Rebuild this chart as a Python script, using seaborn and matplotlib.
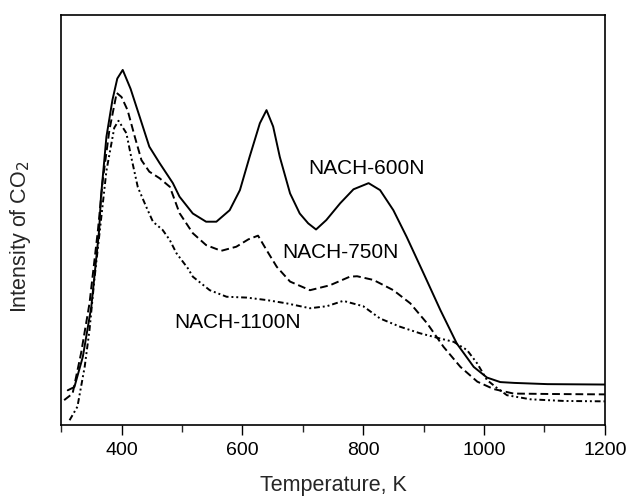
import numpy as np
import pandas as pd
import matplotlib
matplotlib.use("Agg")
import matplotlib.pyplot as plt
import seaborn as sns
from matplotlib.ticker import MultipleLocator

# Data (arbitrary intensity units)
t_600 = [311, 322, 336, 350, 363, 366, 375, 385, 393, 402, 415, 430, 446, 463, 485, 496, 518, 540, 557, 579, 596, 612, 629, 640, 651, 662, 679, 695, 709, 722, 739, 762, 784, 809, 828, 850, 872, 900, 928, 955, 983, 1005, 1027, 1050, 1105, 1200]
v_600 = [8.5, 9.3, 16.7, 28.9, 47.6, 55.7, 70.3, 79.3, 84.5, 86.6, 82.0, 75.2, 67.9, 63.9, 59.0, 55.7, 51.6, 49.6, 49.6, 52.4, 57.3, 65.4, 73.6, 76.8, 72.8, 65.4, 56.5, 51.6, 49.2, 47.7, 50.0, 54.1, 57.5, 59.0, 57.3, 52.4, 45.9, 37.0, 28.0, 19.9, 14.2, 11.6, 10.5, 10.3, 10.0, 9.9]

t_750 = [305, 319, 333, 347, 361, 369, 380, 392, 400, 410, 422, 433, 446, 463, 480, 496, 518, 540, 565, 590, 610, 626, 640, 657, 679, 712, 745, 778, 790, 817, 850, 878, 906, 933, 961, 989, 1016, 1049, 1105, 1200]
v_750 = [6.1, 7.7, 17.5, 29.7, 47.6, 59.8, 72.0, 81.0, 80.0, 76.8, 70.3, 64.6, 61.8, 60.2, 58.1, 51.7, 46.8, 43.9, 42.5, 43.5, 45.3, 46.2, 42.7, 38.6, 35.0, 32.9, 34.1, 36.2, 36.3, 35.4, 32.9, 29.7, 24.8, 19.1, 14.2, 10.6, 8.8, 7.7, 7.6, 7.5]

t_1100 = [314, 327, 339, 347, 355, 366, 375, 388, 395, 408, 416, 427, 441, 452, 468, 480, 491, 510, 518, 546, 574, 607, 640, 673, 712, 740, 767, 800, 828, 861, 894, 928, 950, 972, 989, 1005, 1022, 1038, 1077, 1132, 1200]
v_1100 = [1.2, 4.5, 14.2, 23.2, 35.4, 50.0, 62.0, 72.5, 74.2, 71.2, 65.4, 58.0, 53.2, 49.6, 47.6, 45.1, 41.9, 38.2, 36.2, 32.9, 31.3, 31.1, 30.5, 29.7, 28.5, 29.0, 30.3, 29.0, 26.0, 24.0, 22.4, 21.1, 20.3, 18.3, 15.0, 11.0, 9.0, 7.3, 6.3, 5.9, 5.8]

series_names = ["NACH-600N", "NACH-750N", "NACH-1100N"]
label_pos = [(805, 62.6), (762, 42.0), (592, 25.0)]
x_ticks = [400, 600, 800, 1000, 1200]

sns.set_theme(style="ticks")
plt.rcParams["font.family"] = ["Liberation Sans", "DejaVu Sans"]

fig = plt.figure(figsize=(6.3, 4.99), dpi=100)
ax = fig.add_axes([0.097, 0.148, 0.863, 0.822])

styles = ["-", (0, (4, 2)), (0, (3, 1.5, 1, 1.5, 1, 1.5))]
for name, t, v, ls in zip(series_names, [t_600, t_750, t_1100], [v_600, v_750, v_1100], styles):
    df = pd.DataFrame({"T": t, "I": v})
    sns.lineplot(data=df, x="T", y="I", ax=ax, color="black", linewidth=1.4,
                 linestyle=ls, estimator=None, sort=True)

for name, (x, y) in zip(series_names, label_pos):
    ax.text(x, y, name, ha="center", va="center", fontsize=15, color="black")

ax.set_xlim(300, 1200)
ax.set_ylim(0, 100)
ax.set_xticks(x_ticks)
ax.set_xticklabels([str(v) for v in x_ticks])
ax.xaxis.set_minor_locator(MultipleLocator(100))
ax.set_yticks([])
ax.tick_params(axis="x", which="major", direction="out", length=7, width=1, labelsize=14, pad=5, colors="black")
ax.tick_params(axis="x", which="minor", direction="out", length=5, width=1)
for s in ax.spines.values():
    s.set_linewidth(1.2)
    s.set_color("black")
ax.set_xlabel("Temperature, K", fontsize=15.5, labelpad=12)
ax.set_ylabel("Intensity of CO$_2$", fontsize=15.5)
ax.yaxis.set_label_coords(-0.051, 0.46)

fig.savefig("out.png", dpi=100)
